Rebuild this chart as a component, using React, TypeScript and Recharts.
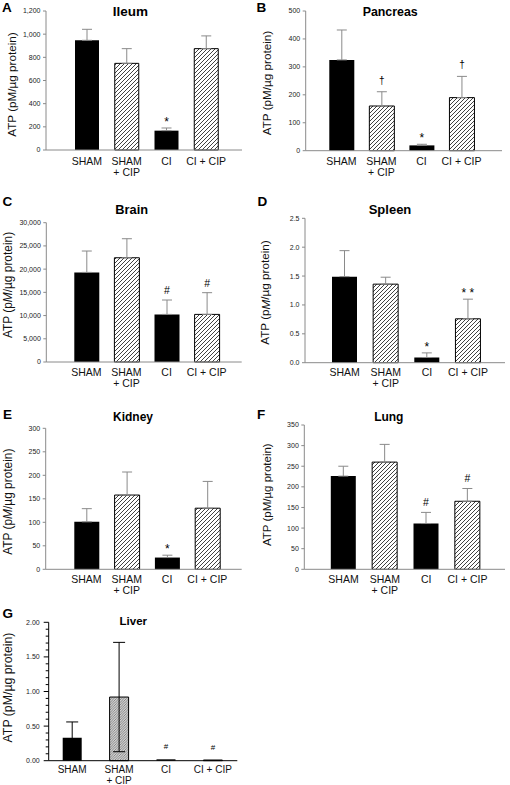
import { Bar, BarChart, Cell, ErrorBar, LabelList, XAxis, YAxis } from "recharts";

// group labels shared by every panel ("\n" starts a second line)
const groups = ["SHAM", "SHAM\n+ CIP", "CI", "CI + CIP"];
const hatchedGroups = [false, true, false, true];

const ileumMean = [947, 748, 167, 875];
const ileumErr = [95, 127, 23, 110];
const ileumMarks = ["", "", "*", ""];
const ileumTicks = [0, 200, 400, 600, 800, 1000, 1200];

const pancreasMean = [325, 160, 19, 190];
const pancreasErr = [107, 51, 4, 76];
const pancreasMarks = ["", "†", "*", "†"];
const pancreasTicks = [0, 100, 200, 300, 400, 500];

const brainMean = [19300, 22450, 10250, 10250];
const brainErr = [4600, 4100, 3100, 4680];
const brainMarks = ["", "", "#", "#"];
const brainTicks = [0, 5000, 10000, 15000, 20000, 25000, 30000];

const spleenMean = [1.49, 1.36, 0.09, 0.76];
const spleenErr = [0.45, 0.12, 0.08, 0.34];
const spleenMarks = ["", "", "*", "* *"];
const spleenTicks = [0, 0.5, 1, 1.5, 2, 2.5];

const kidneyMean = [101, 158, 25, 130];
const kidneyErr = [28, 49, 5, 57];
const kidneyMarks = ["", "", "*", ""];
const kidneyTicks = [0, 50, 100, 150, 200, 250, 300];

const lungMean = [226, 260, 111, 165];
const lungErr = [24, 43, 27, 31];
const lungMarks = ["", "", "#", "#"];
const lungTicks = [0, 50, 100, 150, 200, 250, 300, 350];

const liverMean = [0.33, 0.92, 0.02, 0.01];
const liverErr = [0.23, 0.79, 0, 0];
const liverMarks = ["", "", "#", "#"];
const liverTicks = [0, 0.1, 0.2, 0.3, 0.4, 0.5, 0.6, 0.7, 0.8, 0.9, 1, 1.1, 1.2, 1.3, 1.4, 1.5, 1.6, 1.7, 1.8, 1.9, 2];
const liverMajor = [0, 0.5, 1, 1.5, 2];

const FONT = '"Liberation Sans", Arial, Helvetica, sans-serif';

type Panel = {
  id: string;
  letter: string;
  title: string;
  mean: number[];
  err: number[];
  marks: string[];
  ticks: number[];
  major?: number[];
  digits: number;
  twoSided?: boolean;
  // layout (page pixels)
  left: number;
  top: number;
  height: number;
  plotLeft: number;
  plotRight: number;
  plotTop: number;
  plotBottom: number;
  padL: number;
  padR: number;
  barSize: number;
  letterAt: [number, number];
  titleAt: [number, number];
  titleSize: number;
  labelAt: [number, number];
  labelSize: number;
  italicM?: boolean;
  axisColor: string;
  errColor: string;
  dense?: boolean;
  lineDy: [number, number];
  catSize: number;
};

const panels: Panel[] = [
  {
    id: "a", letter: "A", title: "Ileum", mean: ileumMean, err: ileumErr, marks: ileumMarks, ticks: ileumTicks, digits: 0,
    left: 0, top: 0, height: 190, plotLeft: 46, plotRight: 242, plotTop: 11, plotBottom: 150, padL: 21, padR: 16, barSize: 24,
    letterAt: [2, 12.4], titleAt: [130.5, 15.7], titleSize: 13.5, labelAt: [11, 84.5], labelSize: 11.7,
    axisColor: "#8a8a8a", errColor: "#8a8a8a", lineDy: [14.5, 25.5], catSize: 10.5,
  },
  {
    id: "b", letter: "B", title: "Pancreas", mean: pancreasMean, err: pancreasErr, marks: pancreasMarks, ticks: pancreasTicks, digits: 0,
    left: 255, top: 0, height: 190, plotLeft: 305.7, plotRight: 502, plotTop: 11, plotBottom: 150.7, padL: 15.6, padR: 20.5, barSize: 25,
    letterAt: [256.5, 12.4], titleAt: [390.2, 15.7], titleSize: 12.4, labelAt: [266, 83], labelSize: 11.7,
    axisColor: "#8a8a8a", errColor: "#8a8a8a", lineDy: [14.2, 25.2], catSize: 10.5,
  },
  {
    id: "c", letter: "C", title: "Brain", mean: brainMean, err: brainErr, marks: brainMarks, ticks: brainTicks, digits: 0,
    left: 0, top: 190, height: 200, plotLeft: 46.3, plotRight: 241.7, plotTop: 222.7, plotBottom: 362, padL: 20, padR: 15, barSize: 25,
    letterAt: [2.5, 205.5], titleAt: [131.7, 214], titleSize: 12.8, labelAt: [7.5, 285], labelSize: 11.9, italicM: true,
    axisColor: "#8a8a8a", errColor: "#8a8a8a", lineDy: [13.6, 24.6], catSize: 10.5,
  },
  {
    id: "d", letter: "D", title: "Spleen", mean: spleenMean, err: spleenErr, marks: spleenMarks, ticks: spleenTicks, digits: 1,
    left: 255, top: 190, height: 200, plotLeft: 305, plotRight: 505, plotTop: 218.3, plotBottom: 362.7, padL: 19, padR: 16.4, barSize: 25,
    letterAt: [257.5, 206], titleAt: [390, 214], titleSize: 13, labelAt: [264.5, 292.5], labelSize: 11.7, italicM: true,
    axisColor: "#8a8a8a", errColor: "#8a8a8a", lineDy: [13.6, 24.6], catSize: 10.5,
  },
  {
    id: "e", letter: "E", title: "Kidney", mean: kidneyMean, err: kidneyErr, marks: kidneyMarks, ticks: kidneyTicks, digits: 0,
    left: 0, top: 390, height: 215, plotLeft: 45.7, plotRight: 241.7, plotTop: 428.3, plotBottom: 569.3, padL: 20.6, padR: 14.2, barSize: 25,
    letterAt: [3, 419.3], titleAt: [133, 420.7], titleSize: 12, labelAt: [8, 501.7], labelSize: 11.9, italicM: true,
    axisColor: "#8a8a8a", errColor: "#8a8a8a", lineDy: [13.6, 24.6], catSize: 10.5,
  },
  {
    id: "f", letter: "F", title: "Lung", mean: lungMean, err: lungErr, marks: lungMarks, ticks: lungTicks, digits: 0,
    left: 255, top: 390, height: 215, plotLeft: 304.3, plotRight: 505, plotTop: 425, plotBottom: 569.3, padL: 18.5, padR: 16.8, barSize: 25,
    letterAt: [257, 419], titleAt: [388.8, 420.7], titleSize: 12, labelAt: [267, 494.7], labelSize: 11.5,
    axisColor: "#8a8a8a", errColor: "#8a8a8a", lineDy: [13.6, 24.6], catSize: 10.5,
  },
  {
    id: "g", letter: "G", title: "Liver", mean: liverMean, err: liverErr, marks: liverMarks, ticks: liverTicks, major: liverMajor, digits: 2,
    twoSided: true,
    left: 0, top: 590, height: 195, plotLeft: 48.7, plotRight: 237.3, plotTop: 622.3, plotBottom: 760.7, padL: 0, padR: 1, barSize: 19,
    letterAt: [2.5, 618.3], titleAt: [133.3, 625], titleSize: 11.5, labelAt: [7.5, 687.5], labelSize: 12.3,
    axisColor: "#000", errColor: "#000", dense: true, lineDy: [12.4, 23.4], catSize: 10,
  },
];

function fmtTick(v: number, digits: number) {
  return v.toLocaleString("en-US", { minimumFractionDigits: digits, maximumFractionDigits: digits });
}

function markStyle(mark: string, dense?: boolean) {
  if (dense) return { size: 8, gap: 10 };
  if (mark.includes("*")) return { size: 12, gap: 2 };
  if (mark === "†") return { size: 10, gap: 8 };
  return { size: 10.5, gap: 6 };
}

function PanelChart({ p }: { p: Panel }) {
  const rows = p.mean.map((m, i) => ({
    group: groups[i],
    mean: m,
    errRange: p.twoSided ? p.err[i] : [0, p.err[i]],
    mark: p.marks[i],
  }));
  const hatchId = `hatch-${p.id}`;
  const yMax = p.ticks[p.ticks.length - 1];

  return (
    <div style={{ position: "absolute", left: p.left, top: p.top }}>
      <BarChart
        width={255}
        height={p.height}
        data={rows}
        margin={{ top: p.plotTop - p.top, right: p.left + 255 - p.plotRight, left: 0, bottom: 0 }}
      >
        <defs>
          {p.dense ? (
            <pattern id={hatchId} patternUnits="userSpaceOnUse" width="2.5" height="2.5">
              <rect width="2.5" height="2.5" fill="#d2d2d2" />
              <path d="M-0.625,0.625 l1.25,-1.25 M0,2.5 l2.5,-2.5 M1.875,3.125 l1.25,-1.25" stroke="#4a4a4a" strokeWidth="0.55" />
            </pattern>
          ) : (
            <pattern id={hatchId} patternUnits="userSpaceOnUse" width="4" height="4">
              <rect width="4" height="4" fill="#fff" />
              <path d="M-1,1 l2,-2 M0,4 l4,-4 M3,5 l2,-2" stroke="#111" strokeWidth="0.8" />
            </pattern>
          )}
        </defs>
        <XAxis
          dataKey="group"
          height={p.top + p.height - p.plotBottom}
          padding={{ left: p.padL, right: p.padR }}
          stroke={p.axisColor}
          tickLine={false}
          tickSize={0}
          tickMargin={0}
          interval={0}
          tick={(props: any) => {
            const lines = String(props.payload.value).split("\n");
            return (
              <text x={props.x} y={props.y} textAnchor="middle" fontFamily={FONT} fontSize={p.catSize} fill="#111">
                {lines.map((ln, k) => (
                  <tspan key={k} x={props.x} dy={k === 0 ? p.lineDy[0] : p.lineDy[1] - p.lineDy[0]}>
                    {ln}
                  </tspan>
                ))}
              </text>
            );
          }}
        />
        <YAxis
          width={p.plotLeft - p.left}
          domain={[0, yMax]}
          ticks={p.ticks}
          interval={0}
          stroke={p.axisColor}
          tickLine={false}
          tickSize={0}
          tickMargin={0}
          tick={(props: any) => {
            const v = Number(props.payload.value);
            const isMajor = p.major ? p.major.includes(v) : true;
            const len = p.major ? (isMajor ? 5 : 3) : 3;
            const gap = p.major ? 4 : 2.5;
            return (
              <g>
                <line x1={props.x - len} x2={props.x} y1={props.y} y2={props.y} stroke={p.axisColor} strokeWidth={1} />
                {isMajor && (
                  <text
                    x={props.x - len - gap}
                    y={props.y}
                    dy="0.35em"
                    textAnchor="end"
                    fontFamily={FONT}
                    fontSize={7}
                    fill="#222"
                  >
                    {fmtTick(v, p.digits)}
                  </text>
                )}
              </g>
            );
          }}
        />
        <Bar dataKey="mean" barSize={p.barSize} isAnimationActive={false}>
          {rows.map((_, i) => (
            <Cell
              key={i}
              fill={hatchedGroups[i] ? `url(#${hatchId})` : "#000"}
              stroke="#000"
              strokeWidth={hatchedGroups[i] ? 1 : 0}
            />
          ))}
          <ErrorBar dataKey="errRange" width={p.twoSided ? 6 : 5} stroke={p.errColor} strokeWidth={1} direction="y" />
          <LabelList
            dataKey="mark"
            content={(props: any) => {
              const i = Number(props.index);
              const mark = p.marks[i];
              if (!mark) return null;
              const x = Number(props.x) + Number(props.width) / 2;
              const y = Number(props.y);
              const h = Number(props.height);
              const v = p.mean[i];
              const up = v > 0 ? h * (p.err[i] / v) : 0;
              const s = markStyle(mark, p.dense);
              return (
                <text x={x} y={y - up - s.gap} textAnchor="middle" fontFamily={FONT} fontSize={s.size} fill="#000">
                  {mark}
                </text>
              );
            }}
          />
        </Bar>
      </BarChart>
    </div>
  );
}

export default function App() {
  return (
    <div style={{ position: "absolute", left: 0, top: 0, width: 510, height: 785, background: "#fff", overflow: "hidden" }}>
      {panels.map((p) => (
        <PanelChart key={p.id} p={p} />
      ))}
      <svg width={510} height={785} style={{ position: "absolute", left: 0, top: 0, pointerEvents: "none" }}>
        {panels.map((p) => (
          <g key={p.id} fontFamily={FONT}>
            <text x={p.letterAt[0]} y={p.letterAt[1]} fontSize={13.5} fontWeight="bold" fill="#000">
              {p.letter}
            </text>
            <text x={p.titleAt[0]} y={p.titleAt[1]} fontSize={p.titleSize} fontWeight="bold" textAnchor="middle" fill="#000">
              {p.title}
            </text>
            <text
              x={p.labelAt[0]}
              y={p.labelAt[1]}
              fontSize={p.labelSize}
              textAnchor="middle"
              dominantBaseline="central"
              fill="#111"
              transform={`rotate(-90 ${p.labelAt[0]} ${p.labelAt[1]})`}
            >
              ATP (p<tspan fontStyle={p.italicM ? "italic" : "normal"}>M</tspan>/µg protein)
            </text>
          </g>
        ))}
      </svg>
    </div>
  );
}
